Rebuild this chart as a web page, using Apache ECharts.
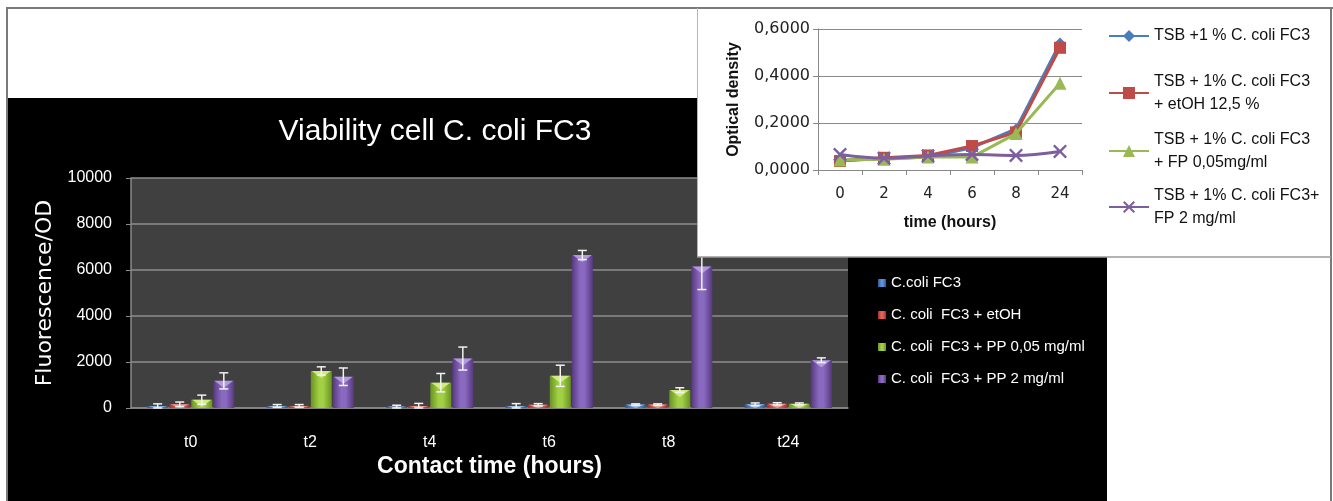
<!DOCTYPE html>
<html>
<head>
<meta charset="utf-8">
<script src="https://cdn.jsdelivr.net/npm/echarts@6/dist/echarts.min.js"></script>
<style>
  html, body { margin: 0; padding: 0; background: #ffffff; }
  #main { position: absolute; left: 0; top: 0; width: 1333px; height: 501px; }
  #inset { position: absolute; left: 697px; top: 0; width: 636px; height: 259px; }
</style>
</head>
<body>
<div id="main"></div>
<div id="inset"></div>
<script>
// ---- Viability (fluorescence / OD) per contact time ----
const timeLabels = ['t0', 't2', 't4', 't6', 't8', 't24'];
const viabilityNames = [
  'C.coli FC3',
  'C. coli  FC3 + etOH',
  'C. coli  FC3 + PP 0,05 mg/ml',
  'C. coli  FC3 + PP 2 mg/ml'
];
const fluorPlain = [80, 90, 60, 90, 150, 160];
const fluorEtoh  = [160, 90, 90, 140, 150, 180];
const fluorPP005 = [360, 1610, 1100, 1400, 780, 180];
const fluorPP2   = [1180, 1360, 2150, 6650, 6150, 2080];
const errPlain = [100, 60, 60, 100, 30, 60];
const errEtoh  = [100, 60, 110, 50, 30, 50];
const errPP005 = [200, 180, 400, 460, 100, 40];
const errPP2   = [350, 380, 500, 200, 1000, 100];
const fluorTicks = { min: 0, max: 10000, interval: 2000 };

// ---- Optical density growth curves ----
const hourLabels = ['0', '2', '4', '6', '8', '24'];
const growthNames = [
  'TSB +1 % C. coli FC3',
  'TSB + 1% C. coli FC3\n+ etOH 12,5 %',
  'TSB + 1% C. coli FC3\n+ FP 0,05mg/ml',
  'TSB + 1% C. coli FC3+\nFP 2 mg/ml'
];
const odPlain = [0.040, 0.048, 0.055, 0.095, 0.175, 0.540];
const odEtoh  = [0.038, 0.052, 0.062, 0.102, 0.160, 0.520];
const odFP005 = [0.043, 0.046, 0.055, 0.055, 0.155, 0.369];
const odFP2   = [0.066, 0.050, 0.060, 0.066, 0.062, 0.079];
const odTicks = { min: 0, max: 0.6, interval: 0.2 };

// bar palette: [edge, centre, bevel highlight]
const barPalette = [
  ['#2c5a94', '#5d93dc', '#a9c8f2'],
  ['#a3302c', '#e2625c', '#f4aaa6'],
  ['#6a9222', '#a2d044', '#dcf290'],
  ['#56397f', '#8a6ac0', '#bba6e4']
];
const BAR_W = 21;
const GAP_RATIO = 0.05;

function barGradient(p) {
  return new echarts.graphic.LinearGradient(0, 0, 1, 0, [
    { offset: 0, color: p[0] },
    { offset: 0.4, color: p[1] },
    { offset: 0.6, color: p[1] },
    { offset: 1, color: p[0] }
  ]);
}

const fluorValues = [fluorPlain, fluorEtoh, fluorPP005, fluorPP2];
const fluorErrors = [errPlain, errEtoh, errPP005, errPP2];

const barSeries = fluorValues.map((vals, si) => ({
  type: 'bar',
  name: viabilityNames[si],
  data: vals,
  barWidth: BAR_W,
  barGap: (GAP_RATIO * 100) + '%',
  z: 2,
  itemStyle: { color: barGradient(barPalette[si]) }
}));

// bevel highlight on each bar top plus the white error whiskers
const overlaySeries = fluorValues.map((vals, si) => ({
  type: 'custom',
  name: 'whisker' + si,
  silent: true,
  z: 4,
  encode: { x: 0, y: 1 },
  data: vals.map((v, i) => [i, v, fluorErrors[si][i]]),
  renderItem(params, api) {
    const idx = api.value(0), v = api.value(1), e = api.value(2);
    const n = fluorValues.length;
    const total = n * BAR_W + (n - 1) * BAR_W * GAP_RATIO;
    const base = api.coord([idx, 0]);
    const top = api.coord([idx, v]);
    const cx = base[0] - total / 2 + BAR_W / 2 + si * BAR_W * (1 + GAP_RATIO);
    const hi = api.coord([idx, v + e])[1];
    const lo = api.coord([idx, Math.max(0, v - e)])[1];
    const barH = base[1] - top[1];
    const bevel = Math.min(7, barH);
    const cap = 4.5;
    const wStyle = { stroke: '#f2f2f2', lineWidth: 1.5 };
    return {
      type: 'group',
      children: [
        {
          type: 'polygon',
          shape: { points: [[cx - BAR_W / 2 + 1, top[1]], [cx + BAR_W / 2 - 1, top[1]], [cx, top[1] + bevel]] },
          style: { fill: barPalette[si][2], opacity: 0.85 }
        },
        { type: 'line', shape: { x1: cx, y1: hi, x2: cx, y2: lo }, style: wStyle },
        { type: 'line', shape: { x1: cx - cap, y1: hi, x2: cx + cap, y2: hi }, style: wStyle },
        { type: 'line', shape: { x1: cx - cap, y1: lo, x2: cx + cap, y2: lo }, style: wStyle }
      ]
    };
  }
}));

const mainChart = echarts.init(document.getElementById('main'), null, { renderer: 'canvas' });
mainChart.setOption({
  animation: false,
  backgroundColor: '#ffffff',
  graphic: [
    { type: 'rect', z: -10, shape: { x: 7, y: 8, width: 1324, height: 500 },
      style: { fill: '#ffffff', stroke: '#7a7a7a', lineWidth: 2 } },
    { type: 'rect', z: -9, shape: { x: 8, y: 98, width: 1099, height: 410 },
      style: { fill: '#000000' } },
    { type: 'text', z: 10, x: 435, y: 132,
      style: { text: 'Viability cell C. coli FC3', fill: '#ffffff', font: '30px "Liberation Sans", Arial, sans-serif',
               align: 'center', verticalAlign: 'middle' } }
  ],
  grid: { left: 131, top: 178, width: 717, height: 230, show: true, backgroundColor: '#404040', borderWidth: 0 },
  legend: {
    orient: 'vertical', left: 878, top: 275, padding: 0,
    icon: 'rect', itemWidth: 8, itemHeight: 8, itemGap: 16, selectedMode: false,
    data: viabilityNames,
    textStyle: { color: '#ffffff', fontSize: 15, lineHeight: 16, fontFamily: '"Liberation Sans", Arial, sans-serif' }
  },
  xAxis: {
    type: 'category', data: timeLabels,
    axisLine: { lineStyle: { color: '#8a8a8a', width: 1.5 } },
    axisTick: { show: false },
    axisLabel: { color: '#ffffff', fontSize: 16, margin: 27, fontFamily: '"Liberation Sans", Arial, sans-serif' },
    name: 'Contact time (hours)', nameLocation: 'middle', nameGap: 47,
    nameTextStyle: { color: '#ffffff', fontSize: 23, fontWeight: 'bold', fontFamily: '"Liberation Sans", Arial, sans-serif' }
  },
  yAxis: {
    type: 'value', min: fluorTicks.min, max: fluorTicks.max, interval: fluorTicks.interval,
    axisLine: { show: true, lineStyle: { color: '#8a8a8a', width: 1.5 } },
    axisTick: { show: true, length: 5, lineStyle: { color: '#8a8a8a' } },
    axisLabel: { color: '#ffffff', fontSize: 16, margin: 19, fontFamily: '"Liberation Sans", Arial, sans-serif',
                 formatter: v => String(v) },
    splitLine: { lineStyle: { color: '#8c8c8c', width: 1.5 } },
    name: 'Fluorescence/OD', nameLocation: 'middle', nameGap: 74,
    nameTextStyle: { color: '#ffffff', fontSize: 22, fontFamily: '"DejaVu Sans", sans-serif' }
  },
  series: barSeries.concat(overlaySeries)
});

// ---- growth curve chart ----
const lineColors = ['#4a7ebb', '#be4b48', '#98b954', '#7d5fa0'];
const crossSymbol = 'path://M0,1.2 L1.2,0 L5,3.8 L8.8,0 L10,1.2 L6.2,5 L10,8.8 L8.8,10 L5,6.2 L1.2,10 L0,8.8 L3.8,5 Z';
const lineSymbols = ['diamond', 'rect', 'triangle', crossSymbol];
const lineSymbolSizes = [11, 12, 13, 14];
const odValues = [odPlain, odEtoh, odFP005, odFP2];

const lineSeries = odValues.map((vals, si) => ({
  type: 'line',
  name: growthNames[si],
  data: vals,
  symbol: lineSymbols[si],
  symbolSize: lineSymbolSizes[si],
  smooth: si === 3 ? 0.35 : false,
  lineStyle: { color: lineColors[si], width: 3 },
  itemStyle: { color: lineColors[si] },
  z: 3 + si
}));

const legendBase = {
  orient: 'horizontal', left: 411, padding: 0,
  itemWidth: 40, itemHeight: 15, itemGap: 0, selectedMode: false
};
const legendFont = { color: '#111111', fontSize: 16, lineHeight: 23, fontFamily: '"Liberation Sans", Arial, sans-serif' };
const legendTops = [24.5, 58.5, 116.5, 172.5];
const insetLegends = growthNames.map((name, i) => Object.assign({}, legendBase, {
  top: legendTops[i],
  data: [name],
  textStyle: Object.assign({}, legendFont, i === 0 ? {} : { padding: [23, 0, 0, 0] })
}));

const insetChart = echarts.init(document.getElementById('inset'), null, { renderer: 'canvas' });
insetChart.setOption({
  animation: false,
  graphic: [
    { type: 'rect', z: -10, shape: { x: 0, y: 8, width: 634, height: 249 }, style: { fill: '#ffffff' } },
    { type: 'line', z: -5, shape: { x1: 0, y1: 8, x2: 636, y2: 8 }, style: { stroke: '#7a7a7a', lineWidth: 2 } },
    { type: 'line', z: -5, shape: { x1: 634, y1: 8, x2: 634, y2: 259 }, style: { stroke: '#7a7a7a', lineWidth: 2 } },
    { type: 'line', z: -5, shape: { x1: 0.5, y1: 8, x2: 0.5, y2: 257 }, style: { stroke: '#b4b4b4', lineWidth: 1 } },
    { type: 'line', z: -5, shape: { x1: 0, y1: 257, x2: 634, y2: 257 }, style: { stroke: '#9a9a9a', lineWidth: 1.5 } }
  ],
  grid: { left: 121, top: 29, width: 264, height: 141 },
  legend: insetLegends,
  xAxis: {
    type: 'category', data: hourLabels, boundaryGap: true,
    axisLine: { lineStyle: { color: '#888888', width: 1 } },
    axisTick: { show: true, length: 5, lineStyle: { color: '#888888' } },
    axisLabel: { color: '#222222', fontSize: 15, margin: 17, fontFamily: '"DejaVu Sans", sans-serif' },
    name: 'time (hours)', nameLocation: 'middle', nameGap: 45,
    nameTextStyle: { color: '#111111', fontSize: 16, fontWeight: 'bold', fontFamily: '"Liberation Sans", Arial, sans-serif' }
  },
  yAxis: {
    type: 'value', min: odTicks.min, max: odTicks.max, interval: odTicks.interval,
    axisLine: { show: true, lineStyle: { color: '#888888', width: 1 } },
    axisTick: { show: true, length: 5, lineStyle: { color: '#888888' } },
    axisLabel: {
      color: '#222222', fontSize: 16, margin: 8, fontFamily: '"DejaVu Sans", sans-serif',
      formatter: v => v.toFixed(4).replace('.', ',')
    },
    splitLine: { lineStyle: { color: '#8a8a8a', width: 1 } },
    name: 'Optical density', nameLocation: 'middle', nameGap: 76,
    nameTextStyle: { color: '#111111', fontSize: 16, fontWeight: 'bold', fontFamily: '"Liberation Sans", Arial, sans-serif' }
  },
  series: lineSeries
});
</script>
</body>
</html>
